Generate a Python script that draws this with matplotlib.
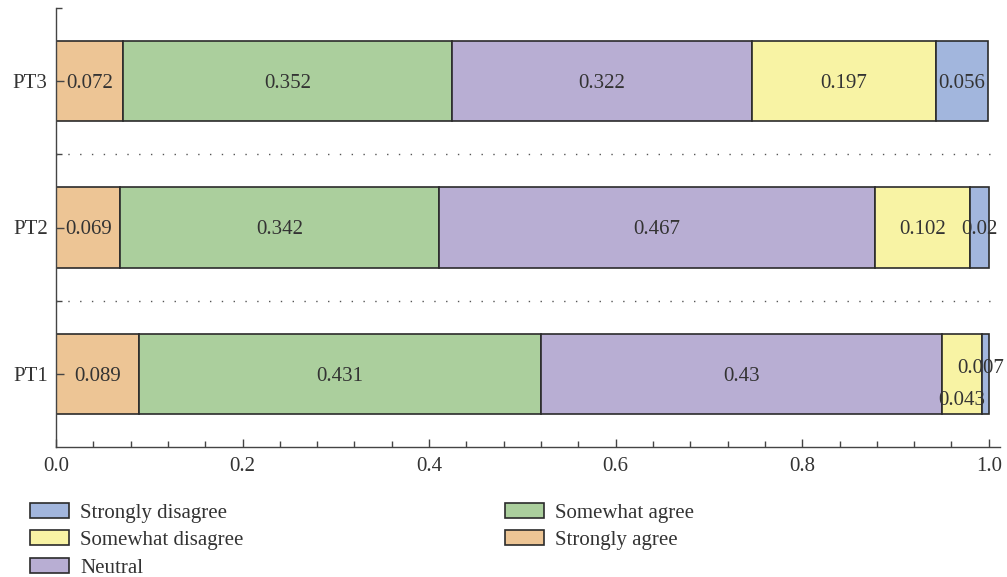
import numpy as np
import matplotlib
matplotlib.use("Agg")
import matplotlib.pyplot as plt
from matplotlib.ticker import MultipleLocator

plt.rcParams['font.family'] = ['Liberation Serif', 'DejaVu Serif']

items = ["PT1", "PT2", "PT3"]
responses = ["Strongly agree", "Somewhat agree", "Neutral", "Somewhat disagree", "Strongly disagree"]
strongly_agree = [0.089, 0.069, 0.072]
somewhat_agree = [0.431, 0.342, 0.352]
neutral = [0.43, 0.467, 0.322]
somewhat_disagree = [0.043, 0.102, 0.197]
strongly_disagree = [0.007, 0.02, 0.056]

series = [strongly_agree, somewhat_agree, neutral, somewhat_disagree, strongly_disagree]
colors = ["#edc595", "#abcf9d", "#b8aed3", "#f8f3a4", "#a2b6dd"]
txt = "#333333"
fs = 15

fig = plt.figure(figsize=(10.07, 5.77), dpi=100)
ax = fig.add_axes([56/1007, 1-447/577, (1000-56)/1007, (447-8)/577])

y = np.arange(1, len(items) + 1)
left = np.zeros(len(items))
bars = {}
for name, vals, c in zip(responses, series, colors):
    vals = np.array(vals)
    b = ax.barh(y, vals, left=left, height=0.55, color=c, edgecolor="#2b2b2b", linewidth=1.2)
    bars[name] = b
    for i in range(len(items)):
        cx = left[i] + vals[i] / 2
        cy = y[i] - 0.015
        ha = "center"
        # crowded small segments on PT1, shifted like the original
        if items[i] == "PT1" and name == "Somewhat disagree":
            cx, cy = cx - 0.0, cy - 0.17
        if items[i] == "PT1" and name == "Strongly disagree":
            cx, cy, ha = cx - 0.03, cy + 0.05, "left"
        ax.text(cx, cy, f"{vals[i]:g}", ha=ha, va="center", fontsize=fs, color=txt, clip_on=False)
    left = left + vals

for yy in [1.5, 2.5]:
    ax.axhline(yy, xmax=0.995, color="#555555", linestyle=(0, (1, 7.5)), linewidth=1.0)

ax.set_xlim(0, 1.012)
ax.set_ylim(0.5, 3.5)
ax.set_yticks(y)
ax.set_yticklabels(items)
ax.set_yticks([1.5, 2.5, 3.5], minor=True)
ax.xaxis.set_minor_locator(MultipleLocator(0.04))
ax.set_xticks(np.arange(0, 1.01, 0.2))
ax.set_xticklabels([f"{v:.1f}" for v in np.arange(0, 1.01, 0.2)])

for s in ["top", "right"]:
    ax.spines[s].set_visible(False)
for s in ["left", "bottom"]:
    ax.spines[s].set_color("#444444")
    ax.spines[s].set_linewidth(1.0)
ax.tick_params(axis="both", which="major", direction="in", length=6, width=1.0, color="#444444",
               labelsize=fs, labelcolor=txt)
ax.tick_params(axis="both", which="minor", direction="in", length=4, width=1.0, color="#444444")
ax.tick_params(axis="x", pad=7)
ax.tick_params(axis="y", pad=6)

h1 = [bars["Strongly disagree"], bars["Somewhat disagree"], bars["Neutral"]]
l1 = ["Strongly disagree", "Somewhat disagree", "Neutral"]
h2 = [bars["Somewhat agree"], bars["Strongly agree"]]
l2 = ["Somewhat agree", "Strongly agree"]
kw = dict(loc="upper left", frameon=False, fontsize=fs, handlelength=1.85, handleheight=0.7,
          labelspacing=0.38, borderpad=0, borderaxespad=0, handletextpad=0.55, labelcolor=txt)
leg1 = fig.legend(h1, l1, bbox_to_anchor=(30/1007, 1-503/577), **kw)
leg2 = fig.legend(h2, l2, bbox_to_anchor=(505/1007, 1-503/577), **kw)

fig.savefig("out.png", dpi=100)
